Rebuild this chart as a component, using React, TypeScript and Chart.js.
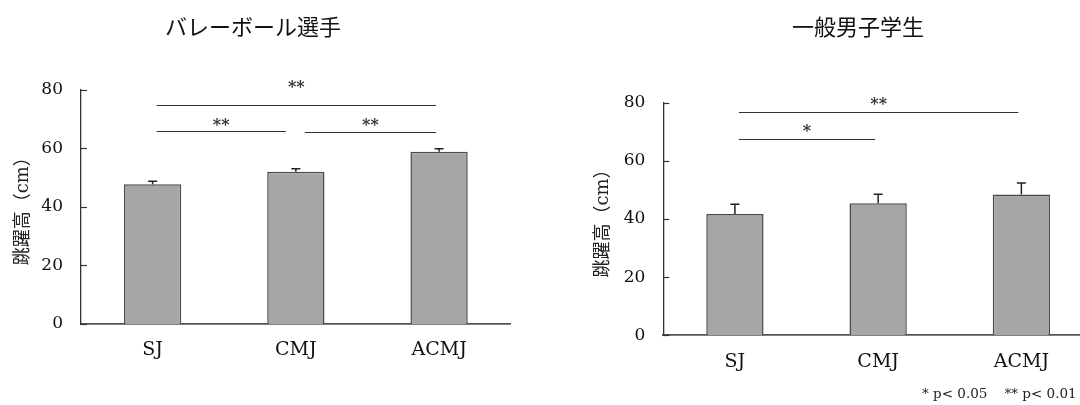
import React, { useEffect, useRef } from "react";
import { Chart, registerables } from "chart.js";

Chart.register(...registerables);

// ---- data ----
const categories = ["SJ", "CMJ", "ACMJ"];
const yTicks = [0, 20, 40, 60, 80];

const volleyTitle = "バレーボール選手";
const volleyMeans = [47.7, 51.9, 58.8];
const volleyErrors = [1.0, 1.1, 1.0];
// significance brackets
const volleySigFrom = [0, 0, 1];
const volleySigTo = [2, 1, 2];
const volleySigLine = [74.7, 65.8, 65.6];
const volleySigLabelAt = [81.9, 68.9, 68.9];
const volleySigText = ["**", "**", "**"];

const studentTitle = "一般男子学生";
const studentMeans = [41.7, 45.4, 48.4];
const studentErrors = [3.4, 3.1, 4.0];
const studentSigFrom = [0, 0];
const studentSigTo = [2, 1];
const studentSigLine = [76.9, 67.6];
const studentSigLabelAt = [80.7, 71.2];
const studentSigText = ["**", "*"];

const yTitle = "跳躍高（cm）";
const footnote = "* p< 0.05    ** p< 0.01";

const SERIF = '"DejaVu Serif", "Noto Sans CJK JP", serif';

type Layout = {
  width: number;
  yWidth: number;
  xHeight: number;
  top: number;
  right: number;
  yTitlePad: number;
};

function makeExtras(errors: number[], from: number[], to: number[], lineAt: number[], labelAt: number[], texts: string[]) {
  return {
    id: "extras",
    afterDraw(chart: any) {
      const { ctx } = chart;
      const x = chart.scales.x;
      const y = chart.scales.y;
      ctx.save();
      // inside tick marks on the y axis
      ctx.strokeStyle = "#333";
      ctx.lineWidth = 1.2;
      yTicks.forEach((v) => {
        const py = Math.round(y.getPixelForValue(v)) + 0.5;
        ctx.beginPath();
        ctx.moveTo(x.left, py);
        ctx.lineTo(x.left + 6, py);
        ctx.stroke();
      });
      // error bars (upper only)
      const vals = chart.data.datasets[0].data as number[];
      ctx.strokeStyle = "#222";
      ctx.lineWidth = 1.5;
      vals.forEach((v, i) => {
        const cx = x.getPixelForValue(i);
        const base = y.getPixelForValue(v);
        const top = y.getPixelForValue(v + errors[i]);
        ctx.beginPath();
        ctx.moveTo(cx, base);
        ctx.lineTo(cx, top);
        ctx.moveTo(cx - 4.5, top);
        ctx.lineTo(cx + 4.5, top);
        ctx.stroke();
      });
      // significance brackets
      ctx.strokeStyle = "#333";
      ctx.lineWidth = 1.2;
      ctx.fillStyle = "#333";
      ctx.font = 'bold 16px "DejaVu Serif", serif';
      ctx.textAlign = "center";
      ctx.textBaseline = "alphabetic";
      from.forEach((f, k) => {
        const t = to[k];
        const sharedStart = from.some((_, j) => j !== k && to[j] === f && Math.abs(lineAt[j] - lineAt[k]) < 3);
        const sharedEnd = from.some((ff, j) => j !== k && ff === t && Math.abs(lineAt[j] - lineAt[k]) < 3);
        const x1 = x.getPixelForValue(f) + (sharedStart ? 9 : 4);
        const x2 = x.getPixelForValue(t) - (sharedEnd ? 10 : 3);
        const py = Math.round(y.getPixelForValue(lineAt[k])) + 0.5;
        ctx.beginPath();
        ctx.moveTo(x1, py);
        ctx.lineTo(x2, py);
        ctx.stroke();
        const ly = y.getPixelForValue(labelAt[k]);
        const m = ctx.measureText(texts[k]);
        const off = (m.actualBoundingBoxAscent - m.actualBoundingBoxDescent) / 2;
        ctx.fillText(texts[k], (x1 + x2) / 2, ly + off);
      });
      ctx.restore();
    },
  };
}

function BarPanel(props: {
  means: number[];
  errors: number[];
  from: number[];
  to: number[];
  lineAt: number[];
  labelAt: number[];
  texts: string[];
  layout: Layout;
}) {
  const ref = useRef<HTMLCanvasElement | null>(null);
  const { means, errors, from, to, lineAt, labelAt, texts, layout } = props;
  useEffect(() => {
    if (!ref.current) return;
    const chart = new Chart(ref.current, {
      type: "bar",
      data: {
        labels: categories,
        datasets: [
          {
            data: means,
            backgroundColor: "#a6a6a6",
            borderColor: "#4a4a4a",
            borderWidth: 1.5,
            categoryPercentage: 0.4,
            barPercentage: 1,
          },
        ],
      },
      options: {
        animation: false,
        responsive: false,
        events: [],
        layout: { padding: { top: layout.top, right: layout.right, bottom: 0, left: 0 } },
        plugins: { legend: { display: false }, tooltip: { enabled: false }, title: { display: false } },
        scales: {
          x: {
            grid: { display: false, drawTicks: false },
            border: { display: true, color: "#555", width: 1.8 },
            ticks: { color: "#111", font: { family: SERIF, size: 19 }, padding: 15 },
            afterFit: (s: any) => {
              s.height = layout.xHeight;
            },
          },
          y: {
            min: 0,
            max: 80,
            grid: { display: false, drawTicks: false },
            border: { display: true, color: "#333", width: 1.3 },
            ticks: { stepSize: 20, color: "#111", font: { family: SERIF, size: 17 }, padding: 18 },
            title: {
              display: true,
              text: yTitle,
              color: "#222",
              font: { family: SERIF, size: 18 },
              padding: { top: layout.yTitlePad, bottom: 0 },
            },
            afterFit: (s: any) => {
              s.width = layout.yWidth;
            },
          },
        },
      },
      plugins: [makeExtras(errors, from, to, lineAt, labelAt, texts)],
    });
    return () => chart.destroy();
  }, []);
  return <canvas ref={ref} width={layout.width} height={405} style={{ display: "block" }} />;
}

const titleStyle: React.CSSProperties = {
  position: "absolute",
  top: 10,
  width: 300,
  textAlign: "center",
  fontFamily: '"Noto Sans CJK JP", sans-serif',
  fontSize: 22,
  lineHeight: "30px",
  color: "#111",
  whiteSpace: "nowrap",
};

export default function App() {
  return (
    <div
      style={{
        position: "fixed",
        left: 0,
        top: 0,
        width: 1080,
        height: 405,
        overflow: "hidden",
        background: "#fff",
      }}
    >
      <div style={{ position: "absolute", left: 0, top: 0 }}>
        <BarPanel
          means={volleyMeans}
          errors={volleyErrors}
          from={volleySigFrom}
          to={volleySigTo}
          lineAt={volleySigLine}
          labelAt={volleySigLabelAt}
          texts={volleySigText}
          layout={{ width: 540, yWidth: 81, xHeight: 81, top: 89.5, right: 29.3, yTitlePad: 12.2 }}
        />
      </div>
      <div style={{ position: "absolute", left: 540, top: 0 }}>
        <BarPanel
          means={studentMeans}
          errors={studentErrors}
          from={studentSigFrom}
          to={studentSigTo}
          lineAt={studentSigLine}
          labelAt={studentSigLabelAt}
          texts={studentSigText}
          layout={{ width: 560, yWidth: 123.3, xHeight: 69.7, top: 102.7, right: 7, yTitlePad: 52.2 }}
        />
      </div>
      <div style={{ ...titleStyle, left: 253 - 150 }}>{volleyTitle}</div>
      <div style={{ ...titleStyle, left: 858 - 150 }}>{studentTitle}</div>
      <div
        style={{
          position: "absolute",
          left: 922,
          top: 385,
          fontFamily: '"DejaVu Serif", serif',
          fontSize: 13.5,
          lineHeight: "16px",
          color: "#222",
          whiteSpace: "pre",
        }}
      >
        {footnote}
      </div>
    </div>
  );
}
